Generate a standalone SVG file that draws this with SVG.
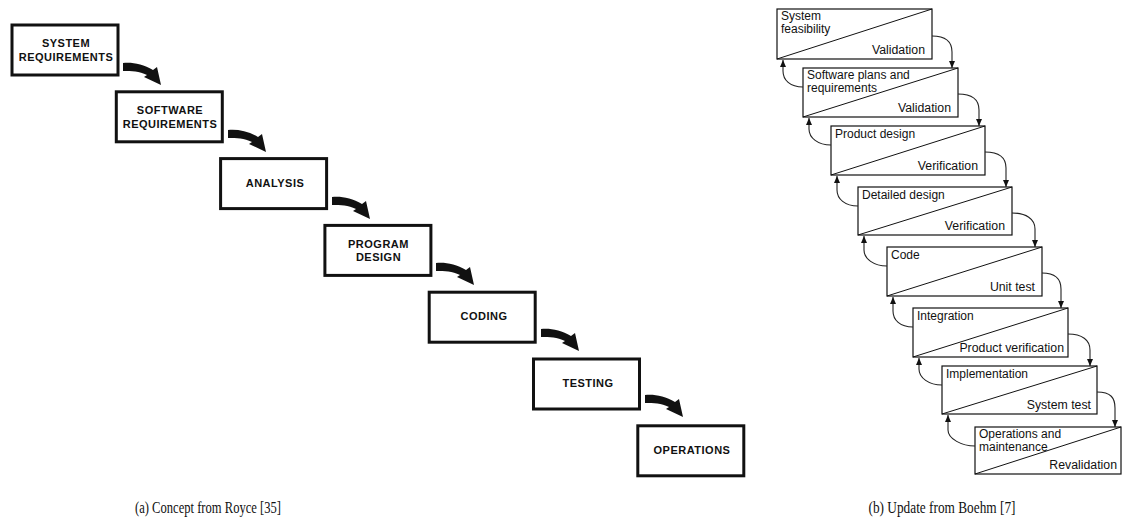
<svg xmlns="http://www.w3.org/2000/svg" xmlns:xlink="http://www.w3.org/1999/xlink" width="1125" height="531" viewBox="0 0 1125 531">
  <style>
    .rbox { fill: #fff; stroke: #111; stroke-width: 3; }
    .rlbl { font-family: "Liberation Sans", Arial, sans-serif; font-weight: bold; font-size: 11px; letter-spacing: 0.5px; fill: #111; text-anchor: middle; }
    .bbox { fill: #fff; stroke: #111; stroke-width: 1.2; }
    .diag { stroke: #111; stroke-width: 1; fill: none; }
    .btl { font-family: "Liberation Sans", Arial, sans-serif; font-size: 12px; fill: #111; }
    .bbr { font-family: "Liberation Sans", Arial, sans-serif; font-size: 12.3px; fill: #111; text-anchor: end; }
    .flow { fill: none; stroke: #222; stroke-width: 1.1; marker-end: url(#head); }
    .cap { font-family: "Liberation Serif", "Times New Roman", serif; font-size: 17px; fill: #111; text-anchor: middle; }
  </style>
  <defs>
    <marker id="head" markerUnits="userSpaceOnUse" markerWidth="8" markerHeight="7" refX="7" refY="3" orient="auto">
      <path d="M0,0 L7,3 L0,6 Z" fill="#111"/>
    </marker>
    <!-- thick curved arrow used between the stages on the left -->
    <path id="bigArrow" d="M0,0 C9,-1 20,1 30,7 L34,4 L38,22 L21,14 L24,12 C16,8 9,8 0,8 Z" fill="#111"/>
  </defs>

  <rect width="1125" height="531" fill="#fff"/>

  <!-- (a) Royce stages -->
  <g id="royce-system-requirements">
    <rect class="rbox" x="12" y="25" width="106" height="50"/>
    <text class="rlbl" x="66" y="47">SYSTEM</text>
    <text class="rlbl" x="66" y="61">REQUIREMENTS</text>
  </g>
  <g id="royce-software-requirements">
    <rect class="rbox" x="116.3" y="91.8" width="106" height="50"/>
    <text class="rlbl" x="170" y="114">SOFTWARE</text>
    <text class="rlbl" x="170" y="128">REQUIREMENTS</text>
  </g>
  <g id="royce-analysis">
    <rect class="rbox" x="220.6" y="158.6" width="106" height="50"/>
    <text class="rlbl" x="275" y="187">ANALYSIS</text>
  </g>
  <g id="royce-program-design">
    <rect class="rbox" x="324.9" y="225.4" width="106" height="50"/>
    <text class="rlbl" x="378.5" y="248">PROGRAM</text>
    <text class="rlbl" x="378.5" y="261">DESIGN</text>
  </g>
  <g id="royce-coding">
    <rect class="rbox" x="429.2" y="292.2" width="106" height="50"/>
    <text class="rlbl" x="484" y="320">CODING</text>
  </g>
  <g id="royce-testing">
    <rect class="rbox" x="533.5" y="359" width="106" height="50"/>
    <text class="rlbl" x="588" y="387">TESTING</text>
  </g>
  <g id="royce-operations">
    <rect class="rbox" x="637.8" y="425.8" width="106" height="50"/>
    <text class="rlbl" x="692" y="453.5">OPERATIONS</text>
  </g>

  <g id="royce-connectors">
    <use xlink:href="#bigArrow" x="123" y="63"/>
    <use xlink:href="#bigArrow" x="228" y="130"/>
    <use xlink:href="#bigArrow" x="332" y="197"/>
    <use xlink:href="#bigArrow" x="436" y="263"/>
    <use xlink:href="#bigArrow" x="541" y="329"/>
    <use xlink:href="#bigArrow" x="645" y="395"/>
  </g>

  <!-- (b) Boehm stages -->
  <g id="boehm-system-feasibility">
    <rect class="bbox" x="777" y="9" width="155" height="50"/>
    <line class="diag" x1="777" y1="59" x2="932" y2="9"/>
    <text class="btl" x="781" y="20">System</text>
    <text class="btl" x="781" y="33">feasibility</text>
    <text class="bbr" x="925" y="54">Validation</text>
  </g>
  <g id="boehm-software-plans">
    <rect class="bbox" x="803" y="68" width="155" height="49"/>
    <line class="diag" x1="803" y1="117" x2="958" y2="68"/>
    <text class="btl" x="807" y="79">Software plans and</text>
    <text class="btl" x="807" y="92">requirements</text>
    <text class="bbr" x="951" y="112">Validation</text>
  </g>
  <g id="boehm-product-design">
    <rect class="bbox" x="831" y="126" width="154" height="49"/>
    <line class="diag" x1="831" y1="175" x2="985" y2="126"/>
    <text class="btl" x="835" y="138">Product design</text>
    <text class="bbr" x="978" y="170">Verification</text>
  </g>
  <g id="boehm-detailed-design">
    <rect class="bbox" x="858" y="187" width="154" height="48"/>
    <line class="diag" x1="858" y1="235" x2="1012" y2="187"/>
    <text class="btl" x="862" y="199">Detailed design</text>
    <text class="bbr" x="1005" y="230">Verification</text>
  </g>
  <g id="boehm-code">
    <rect class="bbox" x="887" y="247" width="155" height="49"/>
    <line class="diag" x1="887" y1="296" x2="1042" y2="247"/>
    <text class="btl" x="891" y="259">Code</text>
    <text class="bbr" x="1035" y="291">Unit test</text>
  </g>
  <g id="boehm-integration">
    <rect class="bbox" x="913" y="308" width="155" height="49"/>
    <line class="diag" x1="913" y1="357" x2="1068" y2="308"/>
    <text class="btl" x="917" y="320">Integration</text>
    <text class="bbr" x="1064" y="352">Product verification</text>
  </g>
  <g id="boehm-implementation">
    <rect class="bbox" x="942" y="366" width="155" height="48"/>
    <line class="diag" x1="942" y1="414" x2="1097" y2="366"/>
    <text class="btl" x="946" y="378">Implementation</text>
    <text class="bbr" x="1091" y="409">System test</text>
  </g>
  <g id="boehm-operations">
    <rect class="bbox" x="975" y="427" width="146" height="47"/>
    <line class="diag" x1="975" y1="474" x2="1121" y2="427"/>
    <text class="btl" x="979" y="438">Operations and</text>
    <text class="btl" x="979" y="451">maintenance</text>
    <text class="bbr" x="1117" y="469">Revalidation</text>
  </g>

  <g id="boehm-connectors">
    <!-- forward: right side of a stage down onto the next one -->
    <path class="flow" d="M932,36 C946,36 952,42 952,52 L952,68"/>
    <path class="flow" d="M958,94 C972,94 979,100 979,110 L979,126"/>
    <path class="flow" d="M985,152 C999,152 1006,158 1006,168 L1006,187"/>
    <path class="flow" d="M1012,213 C1026,213 1035,219 1035,229 L1035,247"/>
    <path class="flow" d="M1042,273 C1056,273 1061,279 1061,289 L1061,308"/>
    <path class="flow" d="M1068,334 C1082,334 1090,340 1090,350 L1090,366"/>
    <path class="flow" d="M1097,392 C1111,392 1115,398 1115,408 L1115,427"/>
    <!-- backward: left side of a stage up to the previous one -->
    <path class="flow" d="M803,87 C790,87 783,80 783,71 L783,60"/>
    <path class="flow" d="M831,145 C818,145 809,138 809,129 L809,118"/>
    <path class="flow" d="M858,206 C845,206 837,199 837,190 L837,176"/>
    <path class="flow" d="M887,266 C874,266 864,259 864,250 L864,236"/>
    <path class="flow" d="M913,327 C900,327 893,320 893,311 L893,297"/>
    <path class="flow" d="M942,385 C929,385 919,378 919,369 L919,358"/>
    <path class="flow" d="M975,446 C962,446 948,439 948,430 L948,415"/>
  </g>

  <g id="captions">
    <text class="cap" x="208" y="513" textLength="146" lengthAdjust="spacingAndGlyphs">(a) Concept from Royce [35]</text>
    <text class="cap" x="942" y="513" textLength="147" lengthAdjust="spacingAndGlyphs">(b) Update from Boehm [7]</text>
  </g>
</svg>
